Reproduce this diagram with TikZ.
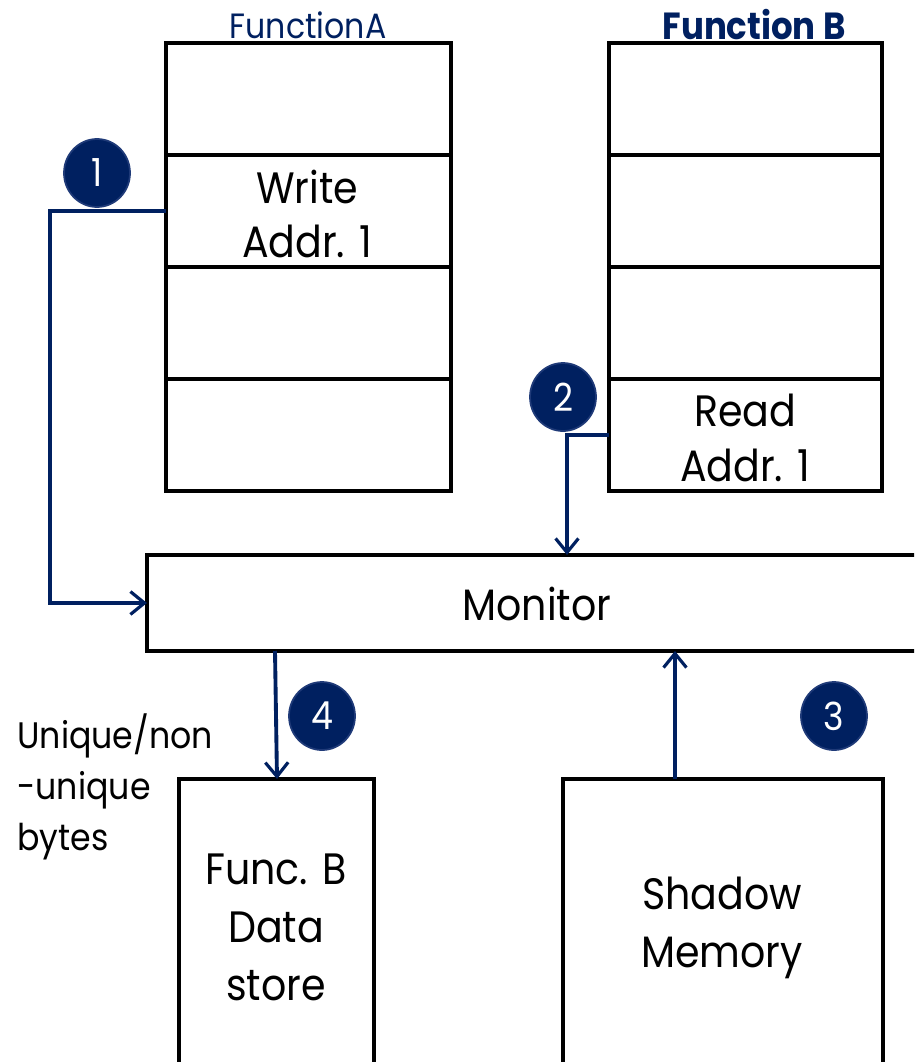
\documentclass[tikz,border=0pt]{standalone}
\usepackage{fontspec}
\setmainfont[FakeStretch=0.9]{Poppins}
\usetikzlibrary{arrows.meta,shapes.geometric}
\definecolor{navy}{HTML}{002060}
\definecolor{navyedge}{HTML}{1F3A78}
\tikzset{
  cell/.style={draw=black, line width=2.1pt, fill=white},
  lbl/.style={font=\fontsize{25}{31}\selectfont, text=black, align=center, inner sep=0pt},
  badge/.style={ellipse, fill=navy, draw=navyedge, line width=1pt, minimum width=1.32cm, minimum height=1.36cm, inner sep=0pt, text=white, font=\fontsize{22}{26}\selectfont},
  link/.style={draw=navy, line width=2.2pt, line cap=butt},
  tip/.style={-{Straight Barb[length=8pt,width=13pt,line width=1.8pt]}}
}
\begin{document}
\begin{tikzpicture}[x=0.02cm, y=-0.02cm]
\useasboundingbox (0,0) rectangle (914,1062);
\clip (0,0) rectangle (914,1062);

% stack of Function A
\foreach \t/\b in {43/155,155/267,267/379,379/491}
  \draw[cell] (166,\t) rectangle (451,\b);
\coordinate (wr) at (166,211);
\node[lbl] (wtext) at (307,214) {Write\\Addr. 1};
\node[font=\fontsize{20}{24}\selectfont, text=navy, inner sep=0pt] (fa) at (308,25) {FunctionA};

% stack of Function B
\foreach \t/\b in {43/155,155/267,267/379,379/491}
  \draw[cell] (609,\t) rectangle (882,\b);
\coordinate (rd) at (609,435);
\node[lbl] (rtext) at (745,438) {Read\\Addr. 1};
\node[font=\bfseries\fontsize{21.5}{24}\selectfont, text=navy, inner sep=0pt] (fb) at (754,25) {Function B};

% monitor bar
\draw[cell] (147,555) rectangle (930,651);
\node[lbl] (mon) at (537,604) {Monitor};

% lower stores
\draw[cell] (179,779) rectangle (374,1080);
\node[lbl, font=\fontsize{25}{33}\selectfont] (ds) at (276,927) {Func. B\\Data\\store};
\draw[cell] (563,779) rectangle (883,1080);
\node[lbl, font=\fontsize{25}{33}\selectfont] (sm) at (722,928) {Shadow\\Memory};

% side note
\node[lbl, align=left, anchor=north west, font=\fontsize{21}{29}\selectfont] (note) at (17,713) {Unique/non\\-unique\\bytes};

% connectors
\coordinate (monL) at (147,603);
\coordinate (monT) at (567,555);
\coordinate (monB4) at (275,651);
\coordinate (dsT) at (277,779);
\coordinate (smT) at (675,779);
\coordinate (monB3) at (675,651);
\draw[link, tip] (wr) -- (50,211) -- (50,603) -- (monL);
\draw[link, tip] (rd) -- (567,435) -- (monT);
\draw[link, tip] (monB4) -- (dsT);
\draw[link, tip] (smT) -- (monB3);

% numbered badges
\node[badge] (b1) at (97,173) {1};
\node[badge] (b2) at (563,397) {2};
\node[badge] (b3) at (834,716) {3};
\node[badge] (b4) at (322,716) {4};
\end{tikzpicture}
\end{document}
